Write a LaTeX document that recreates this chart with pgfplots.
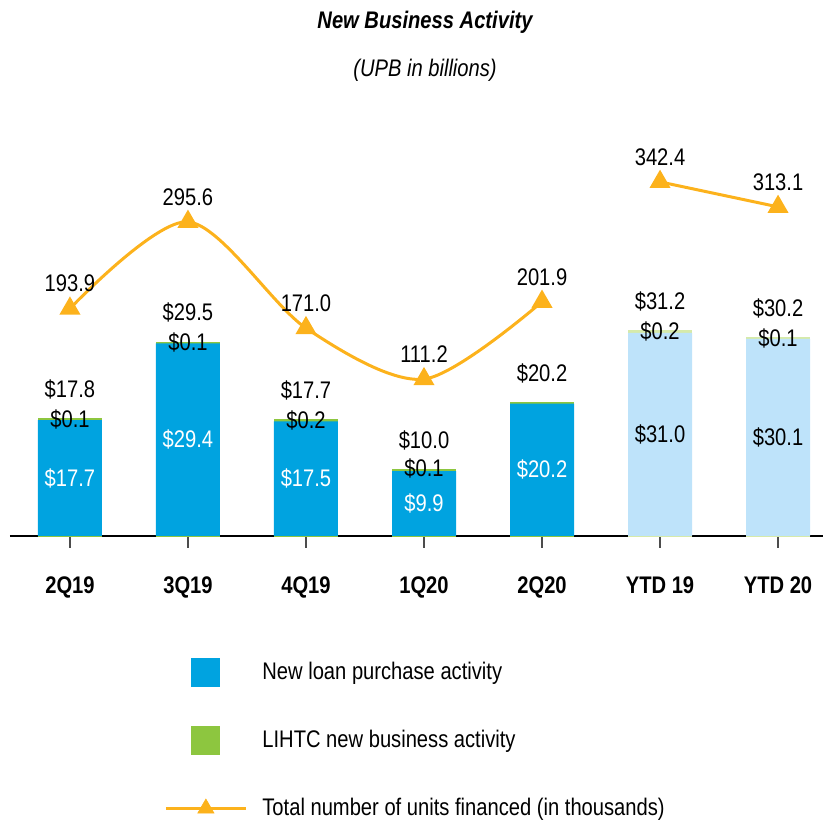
\documentclass[border=0pt]{standalone}
\usepackage{pgfplots}
\pgfplotsset{compat=1.18}
\usepackage{fontspec}
\setmainfont{Liberation Sans}[FakeStretch=0.84]
\definecolor{cblue}{RGB}{0,163,224}
\definecolor{clblue}{RGB}{190,227,250}
\definecolor{cgreen}{RGB}{141,198,63}
\definecolor{clgreen}{RGB}{214,234,170}
\definecolor{corange}{RGB}{252,178,28}
\begin{document}
\fontsize{12}{14.4}\selectfont
\begin{tikzpicture}[font=\fontsize{12}{14.4}\selectfont]
\useasboundingbox (0,0) rectangle (411.5pt,409.5pt);
\node[font=\fontsize{12}{14.4}\selectfont\bfseries\itshape] at (212.5pt,398.5pt) {New Business Activity};
\node[font=\fontsize{12}{14.4}\selectfont\itshape] at (212.5pt,374.5pt) {(UPB in billions)};
\begin{axis}[
 at={(5pt,141.5pt)}, anchor=south west, scale only axis,
 width=406.5pt, height=200pt,
 xmin=-0.508, xmax=6.381, ymin=0, ymax=61.07,
 axis x line*=bottom, axis y line=none,
 x axis line style={line width=1pt,-},
 xtick={0,...,6}, xticklabels={2Q19,3Q19,4Q19,1Q20,2Q20,YTD 19,YTD 20},
 xticklabel style={font=\fontsize{12}{14.4}\selectfont\bfseries, yshift=-10pt},
 tick align=outside, major tick length=6pt,
 xtick style={draw=black!70, line width=0.6pt},
 ybar, bar shift=0pt,
 clip=false,
 /pgf/number format/assume math mode=true,
 nodes near coords style={anchor=center, yshift=15pt, color=black, font=\fontsize{12}{14.4}\selectfont},
]
% total = new loan purchase + LIHTC (LIHTC shows as top segment)
\addplot[fill=cgreen, draw=cgreen, line width=1.2pt, bar width=30.8pt,
  nodes near coords={\$\pgfmathprintnumber[fixed,precision=1,fixed zerofill]{\pgfplotspointmeta}}]
  coordinates {(0,17.8)(1,29.5)(2,17.7)(3,10.0)(4,20.2)};
\addplot[fill=clgreen, draw=clgreen, line width=1.2pt, bar width=30.8pt,
  nodes near coords={\$\pgfmathprintnumber[fixed,precision=1,fixed zerofill]{\pgfplotspointmeta}}]
  coordinates {(5,31.2)(6,30.2)};
% new loan purchase activity
\addplot[fill=cblue, draw=none, bar width=32pt] coordinates {(0,17.7)(1,29.4)(2,17.5)(3,9.9)(4,20.2)};
\addplot[fill=clblue, draw=none, bar width=32pt] coordinates {(5,31.0)(6,30.1)};
% LIHTC labels at top of bars
\node at (axis cs:0,17.8) {\$0.1};
\node at (axis cs:1,29.5) {\$0.1};
\node at (axis cs:2,17.7) {\$0.2};
\node at (axis cs:3,10.0) [yshift=1pt] {\$0.1};
\node at (axis cs:5,31.2) {\$0.2};
\node at (axis cs:6,30.2) {\$0.1};
% inner labels
\node[text=white] at (axis cs:0,8.85) {\$17.7};
\node[text=white] at (axis cs:1,14.7) {\$29.4};
\node[text=white] at (axis cs:2,8.75) {\$17.5};
\node[text=white] at (axis cs:3,4.95) {\$9.9};
\node[text=white] at (axis cs:4,10.1) {\$20.2};
\node[text=black] at (axis cs:5,15.5) {\$31.0};
\node[text=black] at (axis cs:6,15.05) {\$30.1};
\end{axis}
\begin{axis}[
 at={(5pt,141.5pt)}, anchor=south west, scale only axis,
 width=406.5pt, height=200pt,
 xmin=-0.508, xmax=6.381, ymin=-72.7, ymax=396.2,
 axis lines=none, clip=false,
 /pgf/number format/assume math mode=true,
 legend cell align=left,
 legend style={draw=none, fill=none, at={(0.1894,-0.30)}, anchor=north west,
   inner sep=0pt, column sep=7.5pt, row sep=18pt,
   font=\fontsize{12}{14.4}\selectfont, nodes={inner sep=0pt}},
 nodes near coords style={anchor=center, yshift=12.5pt, color=black, font=\fontsize{12}{14.4}\selectfont},
]
\addlegendimage{legend image code/.code={\path[draw=none,fill=none] (0pt,-8pt) rectangle (40pt,8pt); \fill[cblue] (13pt,-7pt) rectangle (27pt,7pt);}}
\addlegendentry{New loan purchase activity}
\addlegendimage{legend image code/.code={\path[draw=none,fill=none] (0pt,-8pt) rectangle (40pt,8pt); \fill[cgreen] (13pt,-7pt) rectangle (27pt,7pt);}}
\addlegendentry{LIHTC new business activity}
\addlegendimage{legend image code/.code={\path[draw=none,fill=none] (0pt,-8pt) rectangle (40pt,8pt); \draw[corange, line width=1.5pt] (0pt,0pt) -- (40pt,0pt); \draw[corange] plot[only marks, mark=triangle*, mark size=4.6pt] coordinates {(20pt,0pt)};}}
\addlegendentry{Total number of units financed (in thousands)}
\addplot[corange, line width=1.5pt, smooth, mark=triangle*, mark size=4.6pt, forget plot,
  nodes near coords={\pgfmathprintnumber[fixed,precision=1,fixed zerofill]{\pgfplotspointmeta}}, point meta=y]
  coordinates {(0,193.9)(1,295.6)(2,171.0)(3,111.2)(4,201.9)};
\addplot[corange, line width=1.5pt, mark=triangle*, mark size=4.6pt, forget plot,
  nodes near coords={\pgfmathprintnumber[fixed,precision=1,fixed zerofill]{\pgfplotspointmeta}}, point meta=y]
  coordinates {(5,342.4)(6,313.1)};
\end{axis}
\end{tikzpicture}
\end{document}
